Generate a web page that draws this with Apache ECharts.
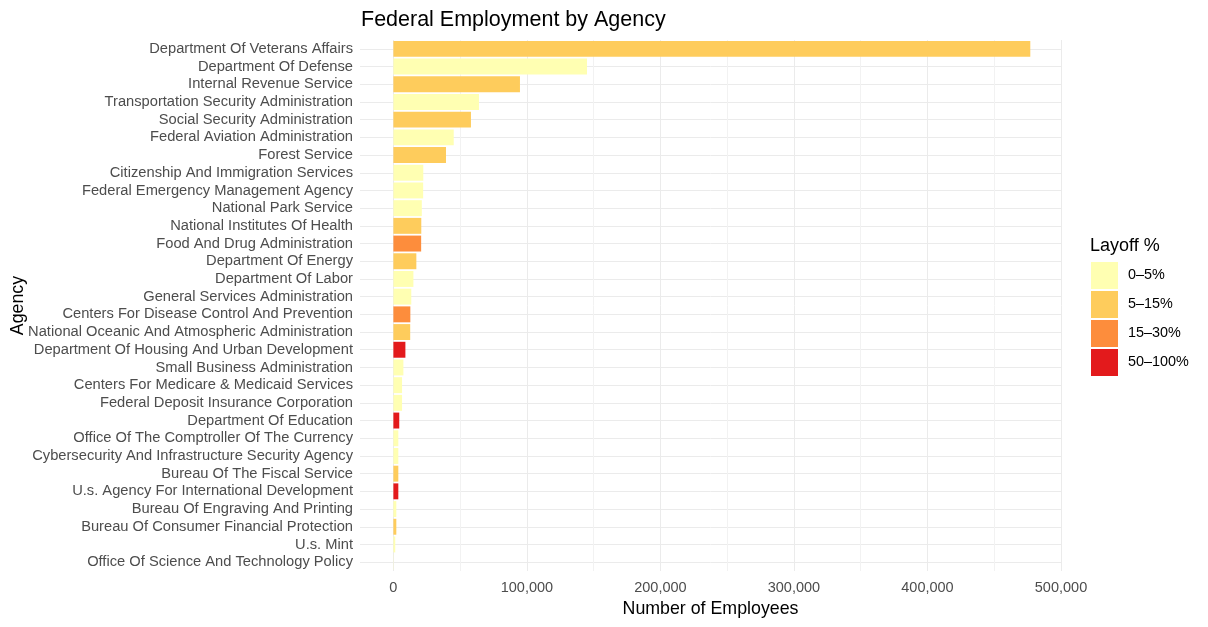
<!DOCTYPE html>
<html>
<head>
<meta charset="utf-8">
<script src="https://cdn.jsdelivr.net/npm/echarts@6/dist/echarts.min.js"></script>
<style>html,body{margin:0;padding:0;background:#fff;}#c{width:1208px;height:627px;}</style>
</head>
<body>
<div id="c"></div>
<script>
const agencies = [
  "Department Of Veterans Affairs","Department Of Defense","Internal Revenue Service",
  "Transportation Security Administration","Social Security Administration","Federal Aviation Administration",
  "Forest Service","Citizenship And Immigration Services","Federal Emergency Management Agency",
  "National Park Service","National Institutes Of Health","Food And Drug Administration",
  "Department Of Energy","Department Of Labor","General Services Administration",
  "Centers For Disease Control And Prevention","National Oceanic And Atmospheric Administration",
  "Department Of Housing And Urban Development","Small Business Administration",
  "Centers For Medicare & Medicaid Services","Federal Deposit Insurance Corporation",
  "Department Of Education","Office Of The Comptroller Of The Currency",
  "Cybersecurity And Infrastructure Security Agency","Bureau Of The Fiscal Service",
  "U.s. Agency For International Development","Bureau Of Engraving And Printing",
  "Bureau Of Consumer Financial Protection","U.s. Mint","Office Of Science And Technology Policy"
];
const employees = [
  477000, 145000, 94800, 64100, 58100, 45200, 39400, 22400, 22300, 21300,
  20900, 20800, 17200, 15000, 13400, 12700, 12600, 9000, 7500, 6500,
  6500, 4400, 3700, 3700, 3700, 3700, 2200, 2200, 1400, 150
];
const layoffGroup = [
  "5–15%","0–5%","5–15%","0–5%","5–15%","0–5%","5–15%","0–5%","0–5%","0–5%",
  "5–15%","15–30%","5–15%","0–5%","0–5%","15–30%","5–15%","50–100%","0–5%","0–5%",
  "0–5%","50–100%","0–5%","0–5%","5–15%","50–100%","0–5%","5–15%","0–5%","0–5%"
];
const groups = ["0–5%","5–15%","15–30%","50–100%"];
const groupColors = ["#FFFFB2","#FECC5C","#FD8D3C","#E31A1C"];
const xTicks = [0, 100000, 200000, 300000, 400000, 500000];

const series = groups.map((g, gi) => ({
  name: g,
  type: 'bar',
  stack: 'total',
  barWidth: '90%',
  itemStyle: { color: groupColors[gi] },
  emphasis: { disabled: true },
  data: employees.map((v, i) => layoffGroup[i] === g ? v : '-')
}));

const chart = echarts.init(document.getElementById('c'), null, { renderer: 'canvas' });
chart.setOption({
  animation: false,
  backgroundColor: '#ffffff',
  textStyle: { fontFamily: 'Liberation Sans, Arial, sans-serif' },
  title: [
    { text: 'Federal Employment by Agency', left: 356, top: 4,
      textStyle: { fontSize: 21.5, fontWeight: 'normal', color: '#000' } },
    { text: 'Layoff %', left: 1085, top: 232,
      textStyle: { fontSize: 18, fontWeight: 'normal', color: '#000' } }
  ],
  legend: {
    orient: 'vertical', left: 1086, top: 257,
    itemWidth: 27, itemHeight: 27, itemGap: 2,
    icon: 'rect',
    selectedMode: false,
    data: groups,
    textStyle: { fontSize: 14.4, color: '#000', padding: [0, 0, 0, 5] }
  },
  grid: { left: 360, right: 147, top: 40, bottom: 56, containLabel: false, outerBoundsMode: 'none' },
  xAxis: {
    type: 'value', min: -25000, max: 500000, interval: 25000,
    name: 'Number of Employees', nameLocation: 'middle', nameGap: 26,
    nameTextStyle: { fontSize: 17.8, color: '#000' },
    axisLine: { show: false }, axisTick: { show: false },
    axisLabel: {
      fontSize: 14.5, color: '#4d4d4d', margin: 9,
      formatter: v => xTicks.indexOf(v) >= 0 ? v.toLocaleString('en-US') : ''
    },
    splitLine: { show: true, lineStyle: { color: ['rgba(0,0,0,0)', '#ebebeb', 'rgba(0,0,0,0)', '#f2f2f2'], width: 1 } }
  },
  yAxis: {
    type: 'category', inverse: true, data: agencies,
    name: 'Agency', nameLocation: 'middle', nameGap: 333, nameRotate: 90, nameMoveOverlap: false,
    nameTextStyle: { fontSize: 17.8, color: '#000' },
    axisLine: { show: false }, axisTick: { show: false, alignWithLabel: true },
    axisLabel: { fontSize: 14.7, color: '#4d4d4d', margin: 7, interval: 0, padding: [3, 0, 0, 0] },
    splitLine: { show: true, alignWithLabel: true, lineStyle: { color: '#ebebeb', width: 1 } }
  },
  series: series
});
</script>
</body>
</html>
